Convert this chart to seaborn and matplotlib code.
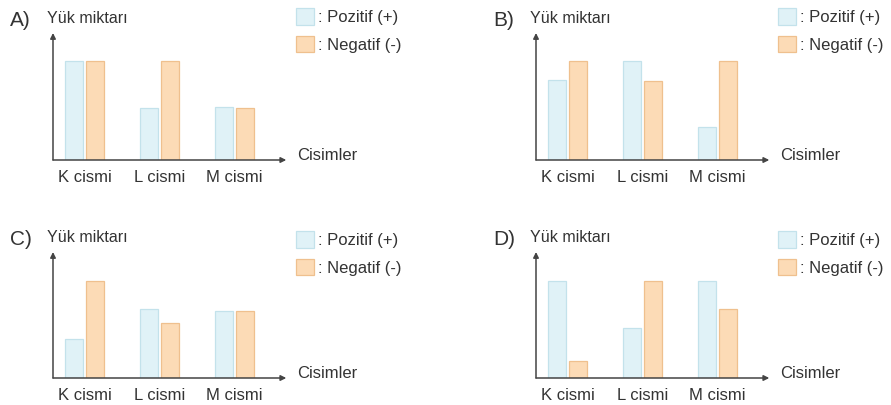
import matplotlib
matplotlib.use("Agg")
import matplotlib.pyplot as plt
import seaborn as sns
import pandas as pd

# Charge amounts (arbitrary units) for each body in each option
categories = ["K cismi", "L cismi", "M cismi"]
charge_labels = [": Pozitif (+)", ": Negatif (-)"]
panel_names = ["A)", "B)", "C)", "D)"]

pozitif_A = [4.0, 2.1, 2.15]
negatif_A = [4.0, 4.0, 2.1]
pozitif_B = [3.23, 4.0, 1.33]
negatif_B = [4.0, 3.2, 4.0]
pozitif_C = [1.6, 2.85, 2.75]
negatif_C = [4.0, 2.25, 2.75]
pozitif_D = [4.0, 2.05, 4.0]
negatif_D = [0.7, 4.0, 2.85]

pozitif = [pozitif_A, pozitif_B, pozitif_C, pozitif_D]
negatif = [negatif_A, negatif_B, negatif_C, negatif_D]

face_colors = ["#e0f2f7", "#fcdbb6"]
edge_colors = ["#c3e2eb", "#efc08e"]
axis_color = "#444444"
text_color = "#333333"

sns.set_theme(style="white")
plt.rcParams["font.family"] = ["Liberation Sans", "DejaVu Sans"]
plt.rcParams["text.color"] = text_color

W, H = 891, 405
fig = plt.figure(figsize=(W / 100, H / 100), dpi=100)
fig.patch.set_facecolor("white")

# panel geometry in pixels: y-axis x, arrow tip y, baseline y, legend top-left
lefts = [53, 536, 53, 536]
tops = [33, 33, 252, 252]
bases = [160, 160, 378, 378]
legend_xy = [(296, 8), (778, 8), (296, 231), (778, 231)]
ymax = [5.13, 5.13, 5.2, 5.2]
xlim = (-0.42, 2.69)
cat_px = 75

for i in range(4):
    width_px = (xlim[1] - xlim[0]) * cat_px
    ax = fig.add_axes([lefts[i] / W, 1 - bases[i] / H,
                       width_px / W, (bases[i] - tops[i]) / H])
    df = pd.DataFrame({
        "Cisim": categories * 2,
        "Yük": pozitif[i] + negatif[i],
        "İşaret": [charge_labels[0]] * 3 + [charge_labels[1]] * 3,
    })
    sns.barplot(data=df, x="Cisim", y="Yük", hue="İşaret",
                palette=face_colors, saturation=1, width=0.55, gap=0.12,
                linewidth=0.9, ax=ax, legend=True)
    for cont, ec in zip(ax.containers, edge_colors):
        for bar in cont:
            bar.set_edgecolor(ec)

    ax.set_xlim(*xlim)
    ax.set_ylim(0, ymax[i])
    for s in ax.spines.values():
        s.set_visible(False)
    ax.set_yticks([])
    ax.set_xlabel("")
    ax.set_ylabel("")
    ax.tick_params(axis="x", length=0, pad=7.5, labelsize=12, labelcolor=text_color)
    ax.set_facecolor("none")

    # axes with arrowheads
    arrow = dict(arrowstyle="-|>", color=axis_color, lw=1.1,
                 mutation_scale=8, shrinkA=0, shrinkB=0)
    ax.annotate("", xy=(1, 0), xytext=(0, 0), xycoords="axes fraction",
                arrowprops=arrow, annotation_clip=False)
    ax.annotate("", xy=(0, 1), xytext=(0, 0), xycoords="axes fraction",
                arrowprops=arrow, annotation_clip=False)

    ax.annotate("Cisimler", xy=(1, 0), xycoords="axes fraction",
                xytext=(7.5, 3.5), textcoords="offset points",
                ha="left", va="center", fontsize=12, color=text_color)
    ax.annotate("Yük miktarı", xy=(0, 1), xycoords="axes fraction",
                xytext=(-4.5, 7), textcoords="offset points",
                ha="left", va="baseline", fontsize=11.5, color=text_color)
    ax.annotate(panel_names[i], xy=(0, 1), xycoords="axes fraction",
                xytext=(-31, 5), textcoords="offset points",
                ha="left", va="baseline", fontsize=15, color=text_color)

    lx, ly = legend_xy[i]
    sns.move_legend(ax, "upper left", bbox_to_anchor=(lx / W, 1 - ly / H),
                    bbox_transform=fig.transFigure, frameon=False, title=None,
                    fontsize=12, handlelength=1.05, handleheight=1.15,
                    handletextpad=0.3, labelspacing=0.65, borderpad=0,
                    borderaxespad=0)
    leg = ax.get_legend()
    for h, ec in zip(leg.legend_handles, edge_colors):
        h.set_edgecolor(ec)
    for t in leg.get_texts():
        t.set_color(text_color)

fig.savefig("out.png", dpi=100, facecolor="white")
